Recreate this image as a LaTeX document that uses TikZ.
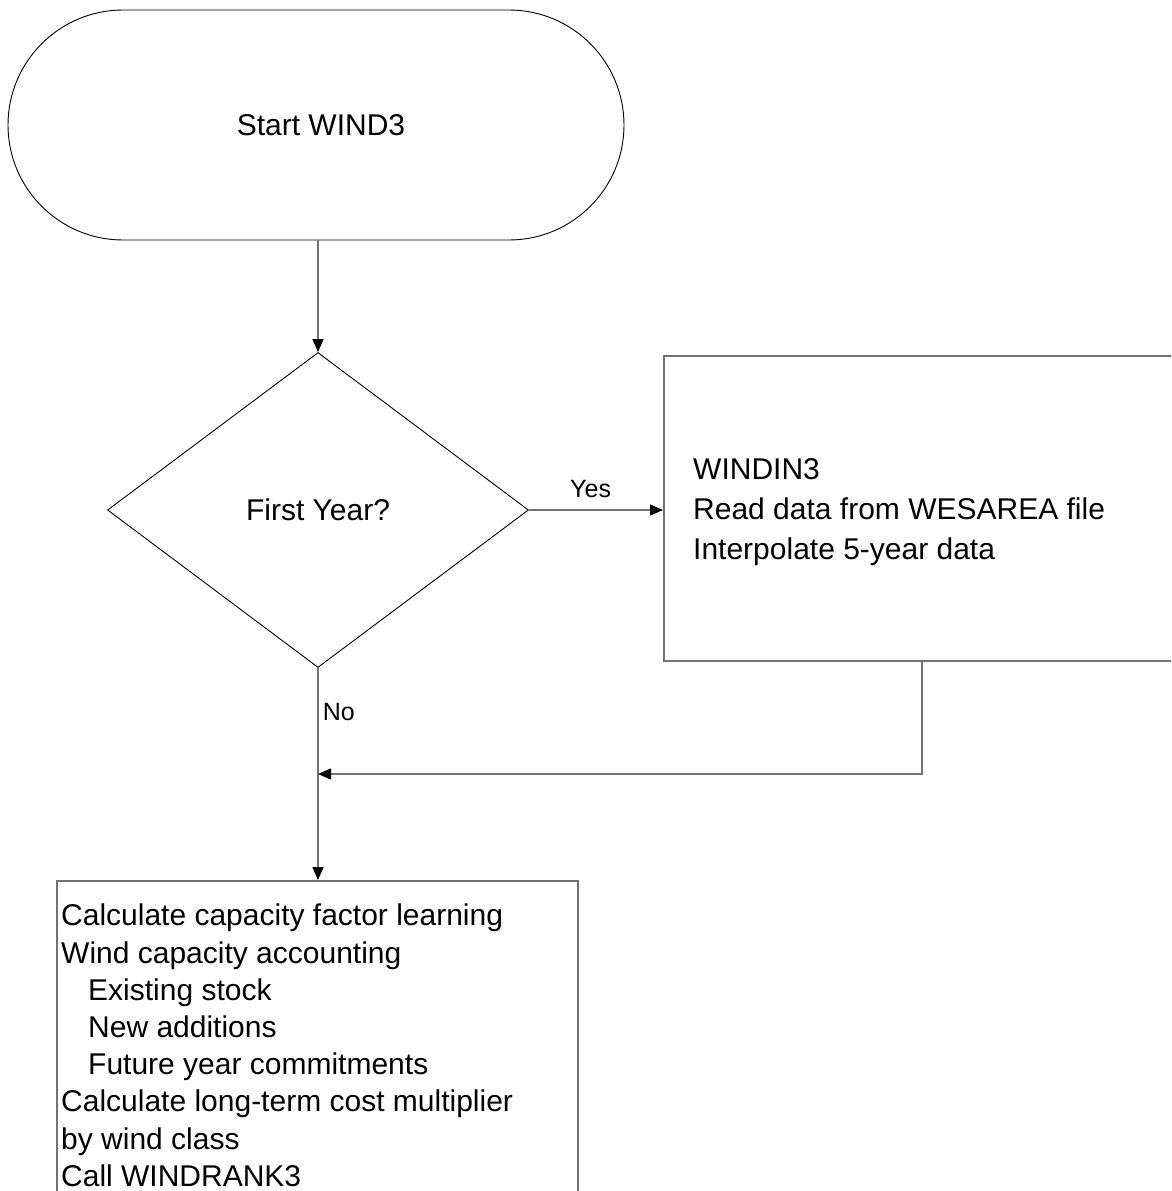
\documentclass[tikz,border=0pt]{standalone}
\usepackage{fontspec}
\setmainfont{Liberation Sans}
\usetikzlibrary{shapes.geometric,arrows.meta}
\tikzset{
  lbl/.style={font=\fontsize{30}{37}\selectfont, inner sep=0pt},
  term/.style={draw=black, line width=0.9pt, rectangle, rounded corners=115pt,
    minimum width=616pt, minimum height=230pt, lbl},
  decision/.style={draw=black, line width=0.9pt, diamond, aspect=1.34,
    minimum width=421pt, minimum height=315pt, lbl},
  procbox/.style={draw=black!55, line width=1.5pt, rectangle, inner sep=0pt},
  conn/.style={draw=black!55, line width=1.5pt, -{Triangle[length=13pt,width=11pt,black]}},
  edgelbl/.style={font=\fontsize{25}{29}\selectfont, inner sep=0pt}
}
\begin{document}
\begin{tikzpicture}[x=1pt,y=-1pt]
\clip (0,0) rectangle (1171,1191);
\fill[white] (0,0) rectangle (1171,1191);
% nodes
\node[term] (start) at (316,125) {\hspace*{10pt}Start WIND3};
\node[decision] (first) at (318,510) {First Year?};
\node[procbox, minimum width=540pt, minimum height=305pt, anchor=north west] (windin) at (663,355) {};
\node[lbl, font=\fontsize{30}{40}\selectfont, align=left, anchor=north west] (windintext) at (693,458)
  {WINDIN3\\Read data from WESAREA file\\Interpolate 5-year data};
\node[procbox, minimum width=521pt, minimum height=330pt, anchor=north west] (calc) at (56,880) {};
\node[lbl, font=\fontsize{30}{37.2}\selectfont, align=left, anchor=north west] (calctext) at (61,904)
  {Calculate capacity factor learning\\
   Wind capacity accounting\\
   \hspace*{27pt}Existing stock\\
   \hspace*{27pt}New additions\\
   \hspace*{27pt}Future year commitments\\
   Calculate long-term cost multiplier\\
   by wind class\\
   Call WINDRANK3};
\coordinate (join) at (318,774);
% connectors
\draw[conn] (start.south -| first.north) -- (first.north);
\draw[conn] (first.east) -- node[edgelbl, above=12pt, pos=0.46] (yes) {Yes} (first.east -| windin.west);
\draw[conn] (first.south) -- node[edgelbl, pos=0.21, right=4pt] (no) {No} (first.south |- calc.north);
\draw[conn] (windin.south west) ++(259,0) |- (join);
\end{tikzpicture}
\end{document}
